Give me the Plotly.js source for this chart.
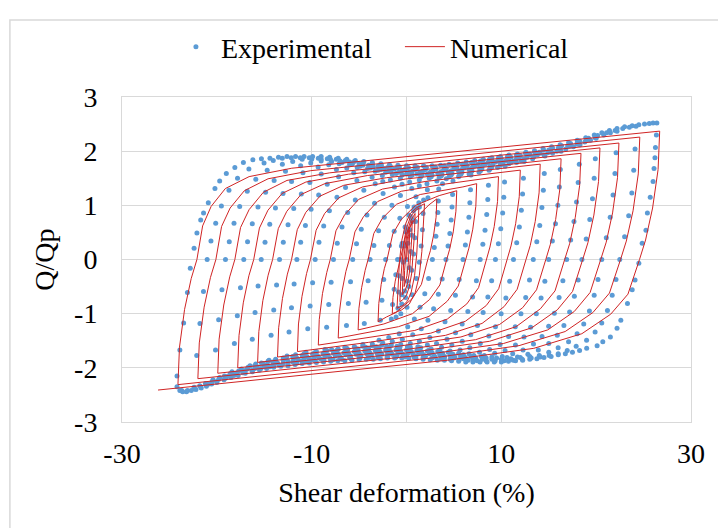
<!DOCTYPE html>
<html>
<head>
<meta charset="utf-8">
<script src="https://cdn.plot.ly/plotly-3.0.1.min.js"></script>
<style>
  html, body { margin: 0; padding: 0; background: #ffffff; }
  #chart { width: 718px; height: 528px; }
</style>
</head>
<body>
<div id="chart"></div>
<script>
// Axis ticks
const xTickVals = [-30, -10, 10, 30];
const xTickText = ['-30', '-10', '10', '30'];
const yTickVals = [-3, -2, -1, 0, 1, 2, 3];
const yTickText = ['-3', '-2', '-1', '0', '1', '2', '3'];

// Experimental record: [shear deformation %, Q/Qp], one array per cycle
const expSmallCycles = [
  [0,0],[0.15,0.3],[0.35,0.55],[0.6,0.7],[0.55,0.45],[0.45,0.15],[0.3,-0.15],[0.1,-0.4],[-0.2,-0.58],[-0.5,-0.65],
  [-0.45,-0.35],[-0.35,-0.05],[-0.2,0.25],[0.05,0.55],[0.4,0.8],[0.75,0.9],[1.0,0.95],[0.95,0.7],[0.88,0.4],[0.75,0.1],[0.55,-0.2],[0.25,-0.5],[-0.1,-0.7],[-0.5,-0.82],[-0.9,-0.9],
  [-0.85,-0.6],[-0.78,-0.3],[-0.65,0],[-0.45,0.3],[-0.15,0.6],[0.25,0.82],[0.8,0.97],[1.3,1.05],[1.8,1.1],[1.75,0.85],[1.68,0.55],[1.55,0.25],[1.35,-0.05],[1.05,-0.35],[0.6,-0.65],[0.05,-0.88],[-0.6,-1.0],[-1.1,-1.06],[-1.6,-1.1]
];
const expCycle01 = [
  [-1.47,-0.83],[-1.3,-0.55],[-1.13,-0.28],[-0.94,0],[-0.54,0.25],[-0.04,0.51],[0.56,0.75],[1.36,0.97],[2.26,1.14],[3.4,1.3],
  [3.36,1.08],[3.31,0.87],[3.23,0.65],[3.1,0.43],[2.93,0.22],[2.73,0],[2.33,-0.35],[1.93,-0.63],[1.43,-0.88],[0.83,-1.1],[0.13,-1.24],[-0.77,-1.37],[-1.87,-1.44],[-2.9,-1.49]
];
const expCycle02 = [
  [-2.76,-1.12],[-2.59,-0.75],[-2.4,-0.37],[-2.2,0],[-1.8,0.26],[-1.3,0.52],[-0.7,0.76],[0.1,0.98],[1.0,1.16],[2.2,1.29],[3.8,1.4],[4.9,1.45],
  [4.86,1.2],[4.8,0.97],[4.71,0.73],[4.57,0.48],[4.38,0.25],[4.16,0],[3.76,-0.36],[3.36,-0.64],[2.86,-0.91],[2.26,-1.12],[1.56,-1.28],[0.66,-1.39],[-0.44,-1.47],[-1.5,-1.51],[-2.5,-1.54],[-3.6,-1.56],[-4.6,-1.57]
];
const expCycle03 = [
  [-4.45,-1.18],[-4.26,-0.79],[-4.05,-0.39],[-3.84,0],[-3.44,0.26],[-2.94,0.53],[-2.34,0.78],[-1.54,1.0],[-0.64,1.18],[0.56,1.31],[1.35,1.36],[2.16,1.4],[3.2,1.45],[4.2,1.49],[5.5,1.53],[6.8,1.56],
  [6.75,1.29],[6.68,1.05],[6.58,0.78],[6.42,0.51],[6.21,0.27],[5.96,0],[5.56,-0.37],[5.16,-0.66],[4.66,-0.94],[4.06,-1.15],[3.36,-1.32],[2.46,-1.44],[1.36,-1.51],[0.4,-1.55],[-0.6,-1.57],[-1.6,-1.58],[-2.6,-1.58],[-3.6,-1.59],[-4.6,-1.6],[-5.5,-1.61],[-6.5,-1.62]
];
const expCycle04 = [
  [-6.33,-1.22],[-6.13,-0.81],[-5.9,-0.41],[-5.67,0],[-5.27,0.29],[-4.77,0.56],[-4.17,0.82],[-3.37,1.04],[-2.47,1.22],[-1.27,1.34],[-0.47,1.39],[0.33,1.43],[1.35,1.47],[2.4,1.5],[3.45,1.52],[4.5,1.53],[5.55,1.55],[6.6,1.58],[7.65,1.61],[8.7,1.65],
  [8.64,1.37],[8.57,1.11],[8.46,0.83],[8.28,0.54],[8.05,0.28],[7.77,0],[7.37,-0.39],[6.97,-0.69],[6.47,-0.96],[5.87,-1.19],[5.17,-1.35],[4.27,-1.47],[3.17,-1.55],[2.2,-1.58],[1.2,-1.61],[0.1,-1.61],[-1.0,-1.6],[-2.1,-1.6],[-3.2,-1.61],[-4.3,-1.62],[-5.4,-1.63],[-6.3,-1.64],[-7.2,-1.65],[-7.9,-1.66],[-8.6,-1.66]
];
const expCycle05 = [
  [-8.42,-1.25],[-8.2,-0.83],[-7.95,-0.42],[-7.7,0],[-7.3,0.3],[-6.8,0.6],[-6.2,0.87],[-5.4,1.1],[-4.5,1.28],[-3.3,1.4],[-2.5,1.44],[-1.7,1.47],[-0.65,1.5],[0.4,1.53],[1.5,1.53],[2.6,1.53],[3.65,1.54],[4.7,1.56],[5.75,1.58],[6.8,1.61],[7.8,1.64],[8.8,1.67],[9.6,1.7],[10.4,1.72],
  [10.34,1.43],[10.26,1.15],[10.14,0.86],[9.94,0.57],[9.69,0.29],[9.38,0],[8.98,-0.39],[8.58,-0.69],[8.08,-0.98],[7.48,-1.22],[6.78,-1.39],[5.88,-1.51],[4.78,-1.58],[3.7,-1.62],[2.6,-1.65],[1.5,-1.63],[0.4,-1.62],[-0.7,-1.62],[-1.8,-1.62],[-2.9,-1.63],[-4.0,-1.64],[-5.1,-1.65],[-6.2,-1.66],[-7.3,-1.67],[-8.4,-1.68],[-9.5,-1.7],[-10.6,-1.71]
];
const expCycle06 = [
  [-10.41,-1.28],[-10.16,-0.86],[-9.9,-0.43],[-9.63,0],[-9.23,0.32],[-8.73,0.62],[-8.13,0.9],[-7.33,1.15],[-6.43,1.33],[-5.23,1.46],[-3.63,1.52],[-2.55,1.55],[-1.5,1.57],[-0.45,1.56],[0.6,1.56],[1.65,1.56],[2.7,1.56],[3.75,1.57],[4.8,1.59],[5.85,1.61],[6.9,1.64],[7.95,1.67],[9.0,1.71],[9.9,1.74],[10.8,1.77],[11.6,1.79],[12.4,1.81],
  [12.33,1.5],[12.24,1.21],[12.11,0.91],[11.9,0.6],[11.62,0.31],[11.28,0],[10.88,-0.4],[10.48,-0.71],[9.98,-1.0],[9.38,-1.24],[8.68,-1.41],[7.78,-1.55],[6.68,-1.63],[5.65,-1.67],[4.6,-1.69],[3.5,-1.68],[2.4,-1.67],[1.3,-1.66],[0.2,-1.65],[-0.9,-1.65],[-2.0,-1.65],[-3.1,-1.66],[-4.2,-1.67],[-5.3,-1.68],[-6.4,-1.69],[-7.5,-1.7],[-8.6,-1.71],[-9.7,-1.72],[-10.8,-1.74],[-11.7,-1.76],[-12.6,-1.78]
];
const expCycle07 = [
  [-12.39,-1.34],[-12.13,-0.89],[-11.85,-0.45],[-11.56,0],[-11.16,0.32],[-10.66,0.63],[-10.06,0.93],[-9.26,1.19],[-8.36,1.39],[-7.16,1.53],[-5.56,1.6],[-4.4,1.62],[-3.3,1.63],[-2.2,1.61],[-1.1,1.59],[0,1.58],[1.1,1.58],[2.2,1.58],[3.3,1.59],[4.4,1.61],[5.5,1.63],[6.6,1.66],[7.7,1.69],[8.8,1.72],[9.9,1.76],[11.0,1.79],[12.1,1.82],[13.3,1.86],[14.6,1.91],
  [14.53,1.59],[14.43,1.28],[14.28,0.96],[14.05,0.63],[13.74,0.33],[13.37,0],[12.97,-0.38],[12.57,-0.7],[12.07,-1.0],[11.47,-1.24],[10.77,-1.42],[9.87,-1.57],[8.77,-1.66],[7.7,-1.71],[6.6,-1.74],[5.5,-1.73],[4.4,-1.71],[3.3,-1.7],[2.2,-1.69],[1.1,-1.68],[0,-1.67],[-1.1,-1.67],[-2.2,-1.67],[-3.3,-1.68],[-4.4,-1.69],[-5.5,-1.7],[-6.6,-1.72],[-7.7,-1.73],[-8.8,-1.74],[-9.9,-1.75],[-11.0,-1.77],[-12.0,-1.79],[-13.0,-1.82],[-13.8,-1.84],[-14.5,-1.86]
];
const expCycle08 = [
  [-14.28,-1.4],[-14.0,-0.93],[-13.7,-0.47],[-13.39,0],[-12.99,0.32],[-12.49,0.64],[-11.89,0.94],[-11.09,1.21],[-10.19,1.42],[-8.99,1.58],[-7.39,1.66],[-6.3,1.69],[-5.2,1.7],[-4.1,1.68],[-3.0,1.65],[-1.9,1.63],[-0.8,1.61],[0.3,1.61],[1.4,1.61],[2.5,1.61],[3.6,1.62],[4.7,1.64],[5.8,1.66],[6.9,1.69],[8.0,1.73],[9.1,1.76],[10.2,1.79],[11.3,1.82],[12.4,1.86],[13.45,1.9],[14.5,1.93],[15.4,1.96],[16.3,2.0],
  [16.22,1.66],[16.12,1.34],[15.96,1.0],[15.71,0.66],[15.38,0.34],[14.99,0],[14.59,-0.4],[14.19,-0.71],[13.69,-1.0],[13.09,-1.25],[12.39,-1.43],[11.49,-1.58],[10.39,-1.68],[9.3,-1.73],[8.2,-1.77],[7.1,-1.77],[6.0,-1.76],[4.9,-1.75],[3.8,-1.73],[2.7,-1.72],[1.6,-1.71],[0.5,-1.7],[-0.6,-1.7],[-1.7,-1.7],[-2.8,-1.7],[-3.9,-1.71],[-5.0,-1.73],[-6.1,-1.74],[-7.2,-1.75],[-8.3,-1.76],[-9.4,-1.77],[-10.5,-1.79],[-11.6,-1.81],[-12.7,-1.83],[-13.8,-1.86],[-14.6,-1.88],[-15.3,-1.91],[-15.9,-1.93],[-16.5,-1.96]
];
const expCycle09 = [
  [-16.26,-1.47],[-15.97,-0.98],[-15.65,-0.49],[-15.32,0],[-14.92,0.32],[-14.42,0.65],[-13.82,0.95],[-13.02,1.22],[-12.12,1.44],[-10.92,1.6],[-9.32,1.71],[-8.2,1.75],[-7.1,1.77],[-6.0,1.75],[-4.9,1.72],[-3.8,1.69],[-2.7,1.66],[-1.6,1.65],[-0.5,1.64],[0.6,1.63],[1.7,1.63],[2.8,1.64],[3.9,1.65],[5.0,1.67],[6.1,1.69],[7.2,1.72],[8.3,1.76],[9.4,1.8],[10.5,1.83],[11.6,1.86],[12.7,1.89],[13.8,1.93],[14.9,1.97],[15.85,2.0],[16.8,2.04],[17.6,2.08],[18.3,2.12],
  [18.22,1.76],[18.1,1.42],[17.93,1.06],[17.66,0.7],[17.31,0.36],[16.89,0],[16.49,-0.39],[16.09,-0.7],[15.59,-0.99],[14.99,-1.23],[14.29,-1.42],[13.39,-1.56],[12.29,-1.67],[11.2,-1.74],[10.1,-1.79],[9.0,-1.8],[7.9,-1.79],[6.8,-1.79],[5.7,-1.78],[4.6,-1.77],[3.5,-1.76],[2.4,-1.74],[1.3,-1.73],[0.2,-1.72],[-0.9,-1.72],[-2.0,-1.72],[-3.1,-1.73],[-4.2,-1.74],[-5.3,-1.75],[-6.4,-1.76],[-7.5,-1.78],[-8.6,-1.79],[-9.7,-1.8],[-10.8,-1.82],[-11.9,-1.84],[-13.0,-1.86],[-14.1,-1.89],[-15.1,-1.92],[-16.0,-1.96],[-16.7,-1.99],[-17.4,-2.02],[-18.4,-2.07]
];
const expCycle10 = [
  [-18.15,-1.55],[-17.84,-1.04],[-17.51,-0.52],[-17.16,0],[-16.76,0.33],[-16.26,0.66],[-15.66,0.97],[-14.86,1.24],[-13.96,1.46],[-12.76,1.63],[-11.16,1.73],[-10.1,1.78],[-9.0,1.82],[-7.9,1.81],[-6.8,1.79],[-5.7,1.77],[-4.6,1.74],[-3.5,1.71],[-2.4,1.68],[-1.3,1.67],[-0.2,1.66],[0.9,1.66],[2.0,1.66],[3.1,1.67],[4.2,1.68],[5.3,1.7],[6.4,1.73],[7.5,1.76],[8.6,1.79],[9.7,1.83],[10.8,1.86],[11.9,1.89],[13.0,1.93],[14.1,1.96],[15.2,2.0],[16.2,2.04],[17.2,2.09],[18.0,2.13],[18.8,2.17],[19.4,2.2],[20.0,2.24],
  [19.91,1.86],[19.79,1.5],[19.61,1.12],[19.33,0.74],[18.95,0.38],[18.5,0],[18.1,-0.38],[17.7,-0.68],[17.2,-0.97],[16.6,-1.22],[15.9,-1.4],[15.0,-1.55],[13.9,-1.67],[12.8,-1.75],[11.7,-1.8],[10.6,-1.81],[9.5,-1.82],[8.4,-1.82],[7.3,-1.82],[6.2,-1.81],[5.1,-1.8],[4.0,-1.79],[2.9,-1.77],[1.8,-1.76],[0.7,-1.75],[-0.4,-1.75],[-1.5,-1.75],[-2.6,-1.75],[-3.7,-1.76],[-4.8,-1.77],[-5.9,-1.78],[-7.0,-1.79],[-8.1,-1.81],[-9.2,-1.82],[-10.3,-1.83],[-11.4,-1.85],[-12.5,-1.88],[-13.6,-1.91],[-14.7,-1.94],[-15.75,-1.98],[-16.8,-2.02],[-17.7,-2.06],[-18.6,-2.11],[-19.2,-2.15],[-19.7,-2.18],[-20.4,-2.22]
];
const expCycle11 = [
  [-20.14,-1.67],[-19.81,-1.11],[-19.46,-0.56],[-19.09,0],[-18.69,0.33],[-18.19,0.67],[-17.59,0.98],[-16.79,1.26],[-15.89,1.48],[-14.69,1.65],[-13.09,1.76],[-12.0,1.81],[-11.0,1.85],[-10.0,1.85],[-9.0,1.85],[-8.0,1.84],[-7.0,1.82],[-6.0,1.8],[-5.0,1.77],[-4.0,1.74],[-3.0,1.72],[-2.0,1.7],[-1.0,1.69],[0,1.68],[1.0,1.68],[2.0,1.68],[3.0,1.68],[4.0,1.7],[5.0,1.72],[6.0,1.74],[7.0,1.77],[8.0,1.8],[9.0,1.83],[10.0,1.86],[11.0,1.89],[12.0,1.92],[13.0,1.95],[14.0,1.98],[15.0,2.02],[16.0,2.06],[17.0,2.1],[18.0,2.15],[19.0,2.2],[19.9,2.25],[20.8,2.3],[21.5,2.34],[22.2,2.37],
  [22.1,1.97],[21.98,1.59],[21.78,1.19],[21.48,0.78],[21.07,0.4],[20.59,0],[20.19,-0.37],[19.79,-0.66],[19.29,-0.95],[18.69,-1.19],[17.99,-1.37],[17.09,-1.52],[15.99,-1.63],[15.0,-1.71],[14.0,-1.77],[13.0,-1.79],[12.0,-1.81],[11.0,-1.83],[10.0,-1.84],[9.0,-1.84],[8.0,-1.84],[7.0,-1.84],[6.0,-1.83],[5.0,-1.82],[4.0,-1.81],[3.0,-1.8],[2.0,-1.79],[1.0,-1.78],[0,-1.77],[-1.0,-1.77],[-2.0,-1.77],[-3.0,-1.78],[-4.0,-1.79],[-5.0,-1.8],[-6.0,-1.81],[-7.0,-1.82],[-8.0,-1.83],[-9.0,-1.84],[-10.0,-1.85],[-11.0,-1.87],[-12.0,-1.89],[-13.0,-1.92],[-14.0,-1.94],[-15.0,-1.97],[-16.0,-2.01],[-17.0,-2.05],[-18.0,-2.1],[-18.9,-2.16],[-19.8,-2.21],[-20.5,-2.25],[-21.2,-2.29],[-21.8,-2.33],[-22.4,-2.36]
];
const expCycle12 = [
  [-22.12,-1.77],[-21.78,-1.18],[-21.41,-0.59],[-21.02,0],[-20.62,0.34],[-20.12,0.67],[-19.52,0.99],[-18.72,1.28],[-17.82,1.5],[-16.62,1.67],[-15.02,1.78],[-14.05,1.83],[-13.1,1.87],[-12.15,1.88],[-11.2,1.88],[-10.25,1.88],[-9.3,1.87],[-8.35,1.86],[-7.4,1.85],[-6.45,1.83],[-5.5,1.81],[-4.55,1.79],[-3.6,1.76],[-2.65,1.74],[-1.7,1.72],[-0.75,1.71],[0.2,1.7],[1.15,1.7],[2.1,1.7],[3.05,1.71],[4.0,1.73],[4.95,1.74],[5.9,1.76],[6.85,1.79],[7.8,1.82],[8.75,1.85],[9.7,1.88],[10.65,1.9],[11.6,1.93],[12.55,1.96],[13.5,1.99],[14.45,2.02],[15.4,2.06],[16.35,2.1],[17.3,2.14],[18.25,2.19],[19.2,2.24],[20.15,2.29],[21.1,2.34],[22.0,2.38],[22.8,2.42],[23.5,2.44],[24.2,2.46],
  [24.1,2.04],[23.96,1.65],[23.76,1.23],[23.43,0.81],[23.0,0.42],[22.49,0],[22.09,-0.37],[21.69,-0.66],[21.19,-0.94],[20.59,-1.17],[19.89,-1.34],[18.99,-1.49],[17.89,-1.6],[16.95,-1.68],[16.0,-1.74],[15.05,-1.77],[14.1,-1.8],[13.15,-1.82],[12.2,-1.84],[11.25,-1.86],[10.3,-1.87],[9.35,-1.87],[8.4,-1.87],[7.45,-1.87],[6.5,-1.86],[5.55,-1.85],[4.6,-1.84],[3.65,-1.83],[2.7,-1.82],[1.75,-1.81],[0.8,-1.8],[-0.15,-1.8],[-1.1,-1.8],[-2.05,-1.8],[-3.0,-1.81],[-3.95,-1.81],[-4.9,-1.82],[-5.85,-1.83],[-6.8,-1.84],[-7.75,-1.85],[-8.7,-1.86],[-9.65,-1.87],[-10.6,-1.89],[-11.55,-1.91],[-12.5,-1.93],[-13.45,-1.95],[-14.4,-1.98],[-15.35,-2.01],[-16.3,-2.05],[-17.25,-2.09],[-18.2,-2.14],[-19.1,-2.19],[-20.0,-2.25],[-20.85,-2.3],[-21.7,-2.35],[-22.4,-2.39],[-23.1,-2.42],[-23.7,-2.42],[-24.2,-2.35]
];
const expCycle13 = [
  [-24.2,-2.15],[-23.9,-1.67],[-23.5,-1.17],[-23.1,-0.61],[-22.8,-0.16],[-22.4,0.21],[-22.1,0.49],[-21.7,0.73],[-21.4,0.86],[-20.9,1.05],[-20.2,1.31],[-19.7,1.45],[-19.0,1.59],[-18.1,1.7],[-17.2,1.79],[-16.2,1.84],[-15.3,1.86],[-14.4,1.87],[-13.5,1.89],[-12.6,1.9],[-11.7,1.9],[-10.8,1.9],[-9.9,1.9],[-9.0,1.9],[-8.1,1.89],[-7.2,1.87],[-6.3,1.85],[-5.4,1.83],[-4.5,1.81],[-3.6,1.79],[-2.7,1.77],[-1.8,1.75],[-0.9,1.74],[0,1.73],[0.9,1.73],[1.8,1.73],[2.7,1.73],[3.6,1.74],[4.5,1.76],[5.4,1.78],[6.3,1.8],[7.2,1.83],[8.1,1.85],[9.0,1.88],[9.9,1.9],[10.8,1.93],[11.7,1.95],[12.6,1.98],[13.5,2.01],[14.4,2.05],[15.3,2.08],[16.2,2.12],[17.1,2.16],[18.0,2.2],[18.9,2.25],[19.8,2.3],[20.6,2.34],[21.4,2.38],[22.2,2.42],[23.0,2.45],[23.8,2.47],[24.5,2.49],[25.1,2.5],[25.6,2.51],[26.0,2.52],[26.4,2.52],
  [26.35,2.3],[26.25,2.07],[26.2,1.88],[26.1,1.68],[26.0,1.44],[25.7,1.15],[25.4,0.86],[25.25,0.54],[24.85,0.3],[24.5,-0.07],[24.1,-0.38],[23.8,-0.56],[23.3,-0.81],[22.6,-1.12],[22.2,-1.27],[21.5,-1.43],[20.7,-1.52],[20.1,-1.59],[19.0,-1.64],[18.25,-1.68],[17.5,-1.71],[16.75,-1.74],[16.0,-1.76],[15.25,-1.79],[14.5,-1.81],[13.75,-1.83],[13.0,-1.84],[12.25,-1.86],[11.5,-1.87],[10.75,-1.88],[10.0,-1.89],[9.25,-1.89],[8.5,-1.89],[7.75,-1.89],[7.0,-1.89],[6.25,-1.89],[5.5,-1.88],[4.75,-1.87],[4.0,-1.86],[3.25,-1.86],[2.5,-1.85],[1.75,-1.84],[1.0,-1.83],[0.25,-1.82],[-0.5,-1.82],[-1.25,-1.82],[-2.0,-1.82],[-2.75,-1.83],[-3.5,-1.84],[-4.25,-1.84],[-5.0,-1.85],[-5.75,-1.86],[-6.5,-1.87],[-7.25,-1.87],[-8.0,-1.88],[-8.75,-1.89],[-9.5,-1.9],[-10.25,-1.91],[-11.0,-1.92],[-11.75,-1.94],[-12.5,-1.96],[-13.25,-1.97],[-14.0,-1.99],[-14.75,-2.01],[-15.5,-2.04],[-16.25,-2.07],[-17.0,-2.1],[-17.75,-2.14],[-18.5,-2.18],[-19.25,-2.22],[-20.0,-2.27],[-20.55,-2.3],[-21.1,-2.34],[-21.65,-2.37],[-22.2,-2.4],[-22.7,-2.42],[-23.2,-2.44],[-23.6,-2.44],[-23.9,-2.42]
];

// Numerical response path: [shear deformation %, Q/Qp], one array per cycle
const numSmallCycles = [
  [0,0],[0.1,0.25],[0.2,0.42],[0.35,0.55],
  [0.3,0.25],[0.2,-0.05],[0.05,-0.3],[-0.1,-0.42],[-0.25,-0.5],
  [-0.2,-0.2],[-0.1,0.1],[0.05,0.35],[0.25,0.55],[0.45,0.66],[0.6,0.72],
  [0.55,0.4],[0.45,0.05],[0.3,-0.25],[0.1,-0.45],[-0.15,-0.57],[-0.45,-0.65],
  [-0.4,-0.35],[-0.3,-0.05],[-0.15,0.25],[0.1,0.52],[0.4,0.7],[0.9,0.85],
  [0.85,0.5],[0.72,0.1],[0.55,-0.25],[0.3,-0.5],[0,-0.66],[-0.3,-0.73],[-0.7,-0.78],
  [-0.62,-0.4],[-0.5,-0.05],[-0.3,0.3],[0,0.58],[0.4,0.78],[0.8,0.88],[1.3,0.95],
  [1.22,0.55],[1.08,0.1],[0.85,-0.3],[0.5,-0.6],[0.1,-0.77],[-0.4,-0.85],[-1.0,-0.9],
  [-0.9,-0.45],[-0.75,-0.05],[-0.5,0.35],[-0.1,0.66],[0.4,0.85],[1.1,0.96],[1.9,1.03],
  [1.8,0.6],[1.62,0.15],[1.35,-0.3],[0.9,-0.62],[0.3,-0.82],[-0.5,-0.93],[-1.5,-1.0]
];
const numCycle01 = [
  [-1.43,-0.7],[-1.19,-0.4],[-0.88,-0.15],[-0.62,0],[-0.02,0.48],[0.88,0.75],[2.38,1.01],[3.2,1.12],
  [3.12,0.78],[2.86,0.45],[2.53,0.17],[2.24,0],[1.57,-0.46],[0.56,-0.73],[-1.13,-0.98],[-2.1,-1.06],[-3.0,-1.15]
];
const numCycle02 = [
  [-2.92,-0.81],[-2.67,-0.46],[-2.34,-0.17],[-2.05,0],[-1.45,0.47],[-0.55,0.74],[0.95,1.0],[3.45,1.18],[5.3,1.27],
  [5.21,0.89],[4.93,0.51],[4.55,0.19],[4.24,0],[3.52,-0.47],[2.43,-0.74],[0.63,-1.0],[-2.39,-1.19],[-5.1,-1.3]
];
const numCycle03 = [
  [-5.02,-0.91],[-4.73,-0.52],[-4.36,-0.2],[-4.05,0],[-3.45,0.48],[-2.55,0.76],[-1.05,1.02],[1.45,1.2],[5.95,1.34],[7.4,1.4],
  [7.31,0.98],[6.99,0.56],[6.58,0.21],[6.23,0],[5.46,-0.49],[4.3,-0.77],[2.37,-1.05],[-0.84,-1.24],[-7.2,-1.45]
];
const numCycle04 = [
  [-7.11,-1.02],[-6.79,-0.58],[-6.39,-0.22],[-6.04,0],[-5.44,0.51],[-4.54,0.79],[-3.04,1.07],[-0.54,1.26],[3.96,1.39],[9.7,1.53],
  [9.6,1.07],[9.25,0.61],[8.8,0.23],[8.42,0],[7.6,-0.52],[6.36,-0.82],[4.3,-1.1],[0.87,-1.31],[-5.31,-1.475],[-9.3,-1.58]
];
const numCycle05 = [
  [-9.2,-1.11],[-8.86,-0.63],[-8.41,-0.24],[-8.04,0],[-7.44,0.53],[-6.54,0.82],[-5.04,1.11],[-2.54,1.3],[1.96,1.44],[12.0,1.65],
  [11.89,1.16],[11.51,0.66],[11.02,0.25],[10.6,0],[9.72,-0.54],[8.41,-0.85],[6.21,-1.14],[2.56,-1.36],[-4.02,-1.53],[-11.5,-1.7]
];
const numCycle06 = [
  [-11.39,-1.19],[-11.02,-0.68],[-10.54,-0.26],[-10.13,0],[-9.53,0.54],[-8.63,0.85],[-7.13,1.14],[-4.63,1.34],[-0.13,1.485],[14.1,1.76],
  [13.98,1.23],[13.57,0.7],[13.05,0.26],[12.6,0],[11.67,-0.55],[10.29,-0.87],[7.97,-1.18],[4.12,-1.4],[-2.82,-1.58],[-13.6,-1.8]
];
const numCycle07 = [
  [-13.48,-1.26],[-13.08,-0.72],[-12.56,-0.27],[-12.12,0],[-11.52,0.55],[-10.62,0.87],[-9.12,1.17],[-6.62,1.37],[-2.12,1.51],[16.3,1.86],
  [16.17,1.3],[15.73,0.74],[15.17,0.28],[14.69,0],[13.71,-0.56],[12.25,-0.89],[9.81,-1.2],[5.74,-1.43],[-1.58,-1.62],[-15.7,-1.9]
];
const numCycle08 = [
  [-15.57,-1.33],[-15.15,-0.76],[-14.59,-0.29],[-14.12,0],[-13.52,0.57],[-12.62,0.89],[-11.12,1.2],[-8.62,1.4],[-4.12,1.55],[18.4,1.96],
  [18.26,1.37],[17.8,0.78],[17.2,0.29],[16.68,0],[15.66,-0.58],[14.12,-0.91],[11.56,-1.24],[7.29,-1.48],[-0.4,-1.67],[-17.8,-2.0]
];
const numCycle09 = [
  [-17.66,-1.4],[-17.21,-0.8],[-16.62,-0.3],[-16.11,0],[-15.51,0.58],[-14.61,0.91],[-13.11,1.22],[-10.61,1.43],[-6.11,1.575],[20.4,2.06],
  [20.25,1.44],[19.76,0.82],[19.13,0.31],[18.58,0],[17.51,-0.59],[15.9,-0.93],[13.22,-1.26],[8.76,-1.51],[0.73,-1.71],[-19.9,-2.1]
];
const numCycle10 = [
  [-19.76,-1.47],[-19.27,-0.84],[-18.64,-0.32],[-18.1,0],[-17.5,0.59],[-16.6,0.92],[-15.1,1.24],[-12.6,1.46],[-8.1,1.6],[22.4,2.15],
  [22.25,1.51],[21.73,0.86],[21.06,0.32],[20.48,0],[19.36,-0.61],[17.69,-0.96],[14.89,-1.3],[10.24,-1.55],[1.86,-1.76],[-22.0,-2.2]
];
const numCycle11 = [
  [-21.85,-1.54],[-21.34,-0.88],[-20.67,-0.33],[-20.1,0],[-19.5,0.61],[-18.6,0.95],[-17.1,1.27],[-14.6,1.49],[-10.1,1.64],[24.6,2.26],
  [24.44,1.58],[23.89,0.9],[23.18,0.34],[22.57,0],[21.4,-0.62],[19.65,-0.98],[16.73,-1.33],[11.87,-1.59],[3.11,-1.81],[-24.1,-2.31]
];
const numCycle12 = [
  [-23.94,-1.62],[-23.4,-0.92],[-22.7,-0.35],[-22.1,0],[-21.5,0.62],[-20.6,0.98],[-19.1,1.31],[-16.6,1.53],[-12.1,1.685],[26.7,2.37],
  [26.53,1.66],[25.95,0.95],[25.21,0.36],[24.57,0],[23.35,-0.64],[21.53,-1.01],[18.49,-1.37],[13.42,-1.64],[4.3,-1.86],[-26.2,-2.41]
];

const experimental = [].concat(expSmallCycles, expCycle01, expCycle02, expCycle03, expCycle04,
  expCycle05, expCycle06, expCycle07, expCycle08, expCycle09, expCycle10, expCycle11,
  expCycle12, expCycle13);
const numerical = [].concat(numSmallCycles, numCycle01, numCycle02, numCycle03, numCycle04,
  numCycle05, numCycle06, numCycle07, numCycle08, numCycle09, numCycle10, numCycle11, numCycle12);

const serif = 'Liberation Serif, Times New Roman, serif';
const gridGrey = '#D9D9D9';
const textFont = { family: serif, size: 28, color: '#000000' };

const traces = [
  {
    type: 'scatter', mode: 'markers', name: 'Experimental',
    x: experimental.map(p => p[0]), y: experimental.map(p => p[1]),
    marker: { color: '#5B9BD5', size: 5 },
    hoverinfo: 'skip'
  },
  {
    type: 'scatter', mode: 'lines', name: 'Numerical',
    x: numerical.map(p => p[0]), y: numerical.map(p => p[1]),
    line: { color: '#D02424', width: 1 },
    hoverinfo: 'skip'
  }
];

const layout = {
  width: 718, height: 528,
  paper_bgcolor: '#ffffff', plot_bgcolor: '#ffffff',
  margin: { l: 122, r: 27, t: 97, b: 106 },
  font: textFont,
  showlegend: true,
  legend: {
    orientation: 'h', x: 0.086, xanchor: 'left', y: 1.154, yanchor: 'middle',
    itemwidth: 40, entrywidth: 174, entrywidthmode: 'pixels',
    font: textFont, bgcolor: 'rgba(0,0,0,0)'
  },
  xaxis: {
    range: [-30, 30], tickvals: xTickVals, ticktext: xTickText,
    showgrid: true, gridcolor: gridGrey, gridwidth: 1,
    zeroline: true, zerolinecolor: gridGrey, zerolinewidth: 1,
    showline: true, mirror: true, linecolor: gridGrey, linewidth: 1,
    ticks: 'outside', ticklen: 6, tickcolor: 'rgba(0,0,0,0)',
    tickfont: textFont,
    title: { text: 'Shear deformation (%)', font: textFont, standoff: 14 }
  },
  yaxis: {
    range: [-3, 3], tickvals: yTickVals, ticktext: yTickText,
    showgrid: true, gridcolor: gridGrey, gridwidth: 1,
    zeroline: false,
    showline: true, mirror: true, linecolor: gridGrey, linewidth: 1,
    ticks: 'outside', ticklen: 18, tickcolor: 'rgba(0,0,0,0)',
    tickfont: textFont,
    title: { text: 'Q/Qp', font: textFont, standoff: 11 }
  },
  shapes: [
    { type: 'rect', xref: 'paper', yref: 'paper', x0: -0.197, x1: 1.3, y0: -0.5, y1: 1.237,
      line: { color: gridGrey, width: 1.5 }, fillcolor: 'rgba(0,0,0,0)', layer: 'below' }
  ]
};

Plotly.newPlot('chart', traces, layout, { displayModeBar: false, staticPlot: true });
</script>
</body>
</html>
